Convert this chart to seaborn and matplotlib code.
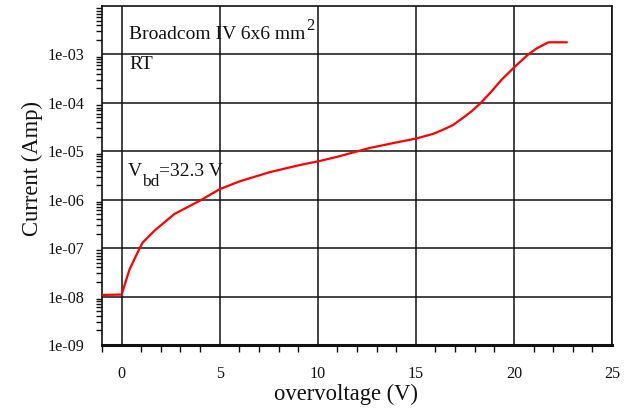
import numpy as np
import pandas as pd
import seaborn as sns
import matplotlib
matplotlib.use("Agg")
import matplotlib.pyplot as plt
import matplotlib.transforms as mtransforms
from matplotlib.ticker import MultipleLocator, LogLocator, FixedLocator, FuncFormatter, NullFormatter

# IV curve of the Broadcom 6x6 mm^2 SiPM at room temperature
overvoltage = [-1.0, 0.0, 0.4, 0.92, 1.07, 1.68, 2.7, 3.98, 5.0, 6.02, 7.55,
               9.08, 10.1, 11.1, 12.65, 13.93, 15.03, 15.9, 16.48, 16.9, 17.4,
               17.84, 18.27, 18.86, 19.37, 20.05, 20.73, 21.16, 21.75, 22.7]
current = [1.08e-8, 1.1e-8, 3.6e-8, 1.0e-7, 1.3e-7, 2.3e-7, 5.1e-7, 9.5e-7,
           1.65e-6, 2.4e-6, 3.7e-6, 5.2e-6, 6.3e-6, 7.9e-6, 1.17e-5, 1.5e-5,
           1.84e-5, 2.3e-5, 2.9e-5, 3.5e-5, 4.9e-5, 6.7e-5, 9.6e-5, 1.73e-4,
           3.0e-4, 5.6e-4, 1.0e-3, 1.33e-3, 1.78e-3, 1.78e-3]

x_ticks = [0, 5, 10, 15, 20, 25]
y_ticks = [1e-9, 1e-8, 1e-7, 1e-6, 1e-5, 1e-4, 1e-3]

# annotation pieces: (text, font size, vertical shift in pixels)
title_parts = [("Broadcom IV 6x6 mm", 14, 0), ("2", 12, 9)]
temp_parts = [("RT", 14, 0)]
vbd_parts = [("V", 14, 0), ("bd", 12.5, -10), ("=32.3 V", 14, 0)]

sns.set_theme(style="white")
plt.rcParams["font.family"] = ["Liberation Serif", "DejaVu Serif"]

df = pd.DataFrame({"overvoltage": overvoltage, "current": current})

fig = plt.figure(figsize=(6.41, 4.17), dpi=100)
ax = fig.add_axes([102 / 641, 72 / 417, 510 / 641, 339 / 417])

sns.lineplot(data=df, x="overvoltage", y="current", ax=ax, color="#ff0000",
             linewidth=1.6, zorder=3)

ax.set_yscale("log")
ax.set_xlim(-1, 25)
ax.set_ylim(1e-9, 1e-2)

ax.xaxis.set_major_locator(FixedLocator(x_ticks))
ax.xaxis.set_minor_locator(MultipleLocator(1))
ax.yaxis.set_major_locator(FixedLocator(y_ticks))
ax.yaxis.set_minor_locator(LogLocator(base=10, subs=np.arange(2, 10), numticks=20))
ax.yaxis.set_major_formatter(FuncFormatter(lambda v, p: "%.0e" % v))
ax.yaxis.set_minor_formatter(NullFormatter())

ax.grid(True, which="major", color="#111111", linewidth=1.1)
ax.tick_params(axis="both", which="major", direction="out", colors="#111111",
               labelcolor="#111111", labelsize=11.6, width=1.1)
ax.tick_params(axis="x", which="major", length=8.5, pad=6.5)
ax.tick_params(axis="y", which="major", length=9, pad=4)
ax.tick_params(axis="x", which="minor", direction="out", length=5, width=1.0,
               bottom=True, colors="#111111")
ax.tick_params(axis="y", which="minor", direction="out", length=4.3, width=1.0,
               left=True, colors="#111111")

for side, spine in ax.spines.items():
    spine.set_color("#111111")
    spine.set_linewidth(1.2)
ax.spines["bottom"].set_linewidth(2.2)

ax.set_xlabel("overvoltage (V)", fontsize=16.3, color="#111111")
ax.set_ylabel("Current (Amp)", fontsize=16.3, color="#111111")
ax.xaxis.set_label_coords(0.478, -0.115)
ax.yaxis.set_label_coords(-0.115, 0.52)

fig.canvas.draw()
renderer = fig.canvas.get_renderer()


def place_parts(x, y, parts):
    """Write text pieces one after another on a shared baseline."""
    dx = 0.0
    for text, size, dy in parts:
        tr = mtransforms.offset_copy(ax.transData, fig=fig, x=dx, y=dy, units="dots")
        t = ax.text(x, y, text, fontsize=size, color="#111111", va="baseline",
                    ha="left", transform=tr)
        dx += t.get_window_extent(renderer=renderer).width


place_parts(0.4, 2.1e-3, title_parts)
place_parts(0.4, 5.1e-4, temp_parts)
place_parts(0.3, 3.1e-6, vbd_parts)

fig.savefig("out.png", dpi=100)
